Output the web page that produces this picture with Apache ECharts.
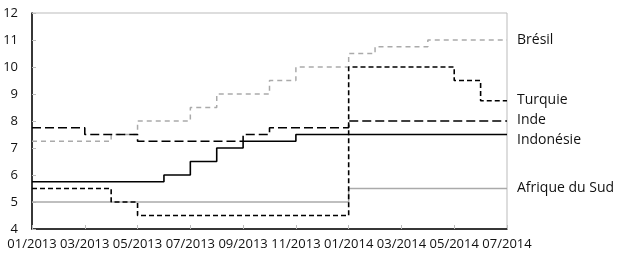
<!DOCTYPE html>
<html>
<head>
<meta charset="utf-8">
<script src="https://cdn.jsdelivr.net/npm/echarts@6/dist/echarts.min.js"></script>
<style>
  html, body { margin: 0; padding: 0; background: #fff; }
  #chart { width: 621px; height: 255px; }
</style>
</head>
<body>
<div id="chart"></div>
<script>
/* mois (début de mois) */
const months = [
  "01/2013", "02/2013", "03/2013", "04/2013", "05/2013", "06/2013",
  "07/2013", "08/2013", "09/2013", "10/2013", "11/2013", "12/2013",
  "01/2014", "02/2014", "03/2014", "04/2014", "05/2014", "06/2014", "07/2014",
];

const bresil = [7.25, 7.25, 7.25, 7.5, 8, 8, 8.5, 9, 9, 9.5, 10, 10, 10.5, 10.75, 10.75, 11, 11, 11, 11];
const turquie = [5.5, 5.5, 5.5, 5, 4.5, 4.5, 4.5, 4.5, 4.5, 4.5, 4.5, 4.5, 10, 10, 10, 10, 9.5, 8.75, 8.75];
const inde = [7.75, 7.75, 7.5, 7.5, 7.25, 7.25, 7.25, 7.25, 7.5, 7.75, 7.75, 7.75, 8, 8, 8, 8, 8, 8, 8];
const indonesie = [5.75, 5.75, 5.75, 5.75, 5.75, 6, 6.5, 7, 7.25, 7.25, 7.5, 7.5, 7.5, 7.5, 7.5, 7.5, 7.5, 7.5, 7.5];
const afriqueSud = [5, 5, 5, 5, 5, 5, 5, 5, 5, 5, 5, 5, 5.5, 5.5, 5.5, 5.5, 5.5, 5.5, 5.5];

const FONT = "Open Sans";

const stepLine = (name, data, color, type, width, offsetY) => ({
  name: name,
  type: "line",
  step: "end",
  data: data,
  symbol: "none",
  lineStyle: { color: color, width: width, type: type },
  endLabel: {
    show: true,
    formatter: name,
    color: "#111",
    fontFamily: FONT,
    fontSize: 14,
    distance: 10,
    offset: [0, offsetY || 0],
  },
  emphasis: { disabled: true },
});

const chart = echarts.init(document.getElementById("chart"));
const option = {
  animation: false,
  grid: {
    left: 32,
    right: 114,
    top: 13,
    bottom: 26,
    show: true,
    borderColor: "#bbb",
    borderWidth: 1,
  },
  xAxis: {
    type: "category",
    data: months,
    boundaryGap: false,
    axisLine: { lineStyle: { color: "#000", width: 1.5 } },
    axisTick: { inside: true, interval: 1, length: 4, lineStyle: { color: "#bbb" } },
    axisLabel: {
      interval: 1,
      color: "#111",
      fontFamily: FONT,
      fontSize: 13,
      margin: 9,
    },
    splitLine: { show: false },
  },
  yAxis: {
    type: "value",
    min: 4,
    max: 12,
    interval: 1,
    axisLine: { show: true, lineStyle: { color: "#000", width: 1.5 } },
    axisTick: { show: true, inside: true, length: 4, lineStyle: { color: "#bbb" } },
    axisLabel: { color: "#111", fontFamily: FONT, fontSize: 13, margin: 14 },
    splitLine: { show: false },
  },
  series: [
    stepLine("Brésil", bresil, "#aaa", [5, 4], 1.5),
    stepLine("Afrique du Sud", afriqueSud, "#aaa", "solid", 1.5),
    stepLine("Turquie", turquie, "#000", [5, 3], 1.6, -1),
    stepLine("Inde", inde, "#000", [9, 4], 1.6, -1),
    stepLine("Indonésie", indonesie, "#000", "solid", 1.6, 6),
  ],
};
option && chart.setOption(option);
</script>
</body>
</html>
